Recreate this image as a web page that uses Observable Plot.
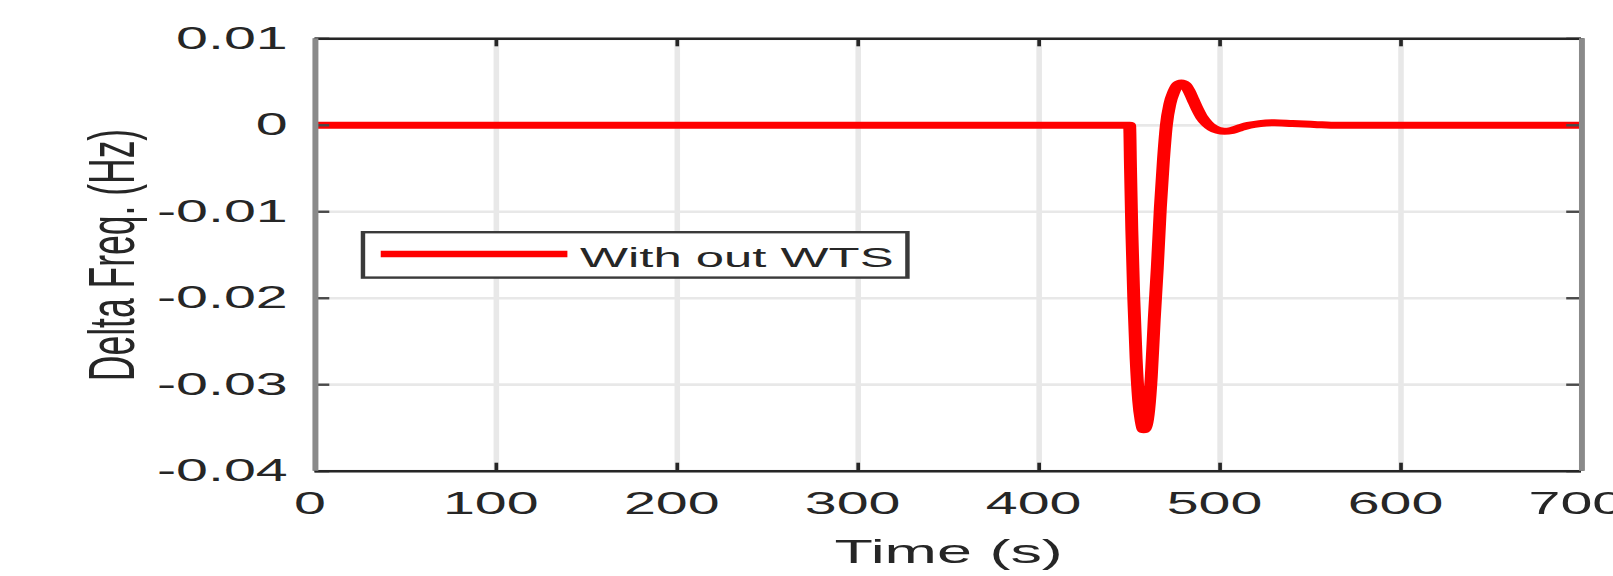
<!DOCTYPE html>
<html>
<head>
<meta charset="utf-8">
<script src="https://cdn.jsdelivr.net/npm/d3@7"></script>
<script src="https://cdn.jsdelivr.net/npm/@observablehq/plot@0.6"></script>
<style>
  html, body { margin: 0; padding: 0; background: #fff; }
  #wrap { position: relative; width: 1613px; height: 576px; overflow: hidden; background: #fff; }
  /* the figure is laid out narrow and then widened horizontally */
  #inner { position: absolute; left: 0; top: 0; width: 872px; height: 576px; transform: scaleX(1.85); transform-origin: 0 0; }
  #legend { position: absolute; left: 194.6px; top: 230.7px; }
</style>
</head>
<body>
<div id="wrap"><div id="inner"></div></div>
<script>
// Frequency deviation response (no wind turbine support)
const seriesName = "With out WTS";
const timeS = [0, 450, 450.5, 451.2, 452.3, 453.6, 455, 456.4, 457.8, 459.2, 460.6, 462, 463.6, 465.3, 467, 468.7, 470.3, 472.3, 474.5, 476.6, 478.6, 480.6, 482.8, 485, 487.4, 490, 492.8, 495.8, 499, 502.5, 506.5, 511, 516, 522, 530, 540, 552, 565, 700];
const deltaHz = [0, 0, -0.005, -0.012, -0.02, -0.027, -0.0318, -0.0342, -0.0352, -0.0347, -0.0328, -0.029, -0.0225, -0.0165, -0.0095, -0.004, 0, 0.0025, 0.0039, 0.0047, 0.0049, 0.0047, 0.004, 0.003, 0.0019, 0.0009, 0.0002, -0.0003, -0.0006, -0.0007, -0.0006, -0.0003, 0, 0.0002, 0.0003, 0.0002, 0.0001, 0, 0];

const xTicks = [0, 100, 200, 300, 400, 500, 600, 700];
const xTickLabels = ["0", "100", "200", "300", "400", "500", "600", "700"];
const yTicks = [-0.04, -0.03, -0.02, -0.01, 0, 0.01];
const yTickLabels = ["-0.04", "-0.03", "-0.02", "-0.01", "0", "0.01"];
const xLabel = "Time (s)";
const yLabel = "Delta Freq. (Hz)";

const data = timeS.map((t, i) => ({t, v: deltaHz[i]}));

const W = 872, H = 576;
const mL = 170, mR = 17.4, mT = 38.3, mB = 105.3;
const innerW = W - mL - mR, innerH = H - mT - mB;
const tickLen = 8;
const ink = "#262626";

const chart = Plot.plot({
  width: W,
  height: H,
  marginLeft: mL,
  marginRight: mR,
  marginTop: mT,
  marginBottom: mB,
  x: {domain: [0, 700]},
  y: {domain: [-0.04, 0.01]},
  style: {background: "white", color: ink, fontFamily: "'Liberation Sans', Arial, sans-serif", overflow: "visible"},
  marks: [
    Plot.gridX({ticks: xTicks, stroke: "#e8e8e8", strokeOpacity: 1, strokeWidth: 3}),
    Plot.gridY({ticks: yTicks, stroke: "#e8e8e8", strokeOpacity: 1, strokeWidth: 2.7}),
    Plot.line(data, {x: "t", y: "v", stroke: "#ff0000", strokeWidth: 7, strokeLinecap: "butt", curve: "monotone-x"}),
    // inward tick marks on all four sides
    Plot.ruleX(xTicks, {x: d => d, insetTop: innerH - tickLen, stroke: ink, strokeWidth: 2}),
    Plot.ruleX(xTicks, {x: d => d, insetBottom: innerH - tickLen, stroke: ink, strokeWidth: 2}),
    Plot.ruleY(yTicks, {y: d => d, insetRight: innerW - tickLen, stroke: "#4a4a4a", strokeWidth: 2.4}),
    Plot.ruleY(yTicks, {y: d => d, insetLeft: innerW - tickLen, stroke: "#4a4a4a", strokeWidth: 2.4}),
    // axes box
    Plot.ruleY([-0.04, 0.01], {stroke: ink, strokeWidth: 2.5}),
    Plot.ruleX([0, 700], {stroke: "#8a8a8a", strokeWidth: 3.2}),
    Plot.axisX({ticks: xTicks, tickSize: 0, tickPadding: 21, fontSize: 31, dx: -3,
      tickFormat: d => xTickLabels[xTicks.indexOf(d)], label: null}),
    Plot.axisY({ticks: yTicks, tickSize: 0, tickPadding: 15, fontSize: 31,
      tickFormat: d => yTickLabels[yTicks.findIndex(v => Math.abs(v - d) < 1e-9)], label: null}),
    Plot.text([xLabel], {frameAnchor: "bottom", textAnchor: "middle", lineAnchor: "middle", dy: 81.4, fontSize: 34, fill: ink}),
    Plot.text([yLabel], {frameAnchor: "left", textAnchor: "middle", lineAnchor: "middle", rotate: -90, dx: -109.5, fontSize: 35.5, fill: ink})
  ]
});

const inner = document.getElementById("inner");
inner.appendChild(chart);

// legend box
const lg = d3.create("svg")
  .attr("id", "legend")
  .attr("width", 297)
  .attr("height", 48)
  .style("overflow", "visible");
lg.append("rect")
  .attr("x", 1.2).attr("y", 1.2).attr("width", 294.3).attr("height", 45.4)
  .attr("fill", "white").attr("stroke", "#3a3a3a").attr("stroke-width", 2.4);
lg.append("line")
  .attr("x1", 10.8).attr("x2", 111.7).attr("y1", 23).attr("y2", 23)
  .attr("stroke", "#ff0000").attr("stroke-width", 6.5);
lg.append("text")
  .attr("x", 118.5).attr("y", 36)
  .attr("font-family", "'Liberation Sans', Arial, sans-serif")
  .attr("font-size", 27.5)
  .attr("fill", ink)
  .text(seriesName);
inner.appendChild(lg.node());
</script>
</body>
</html>
